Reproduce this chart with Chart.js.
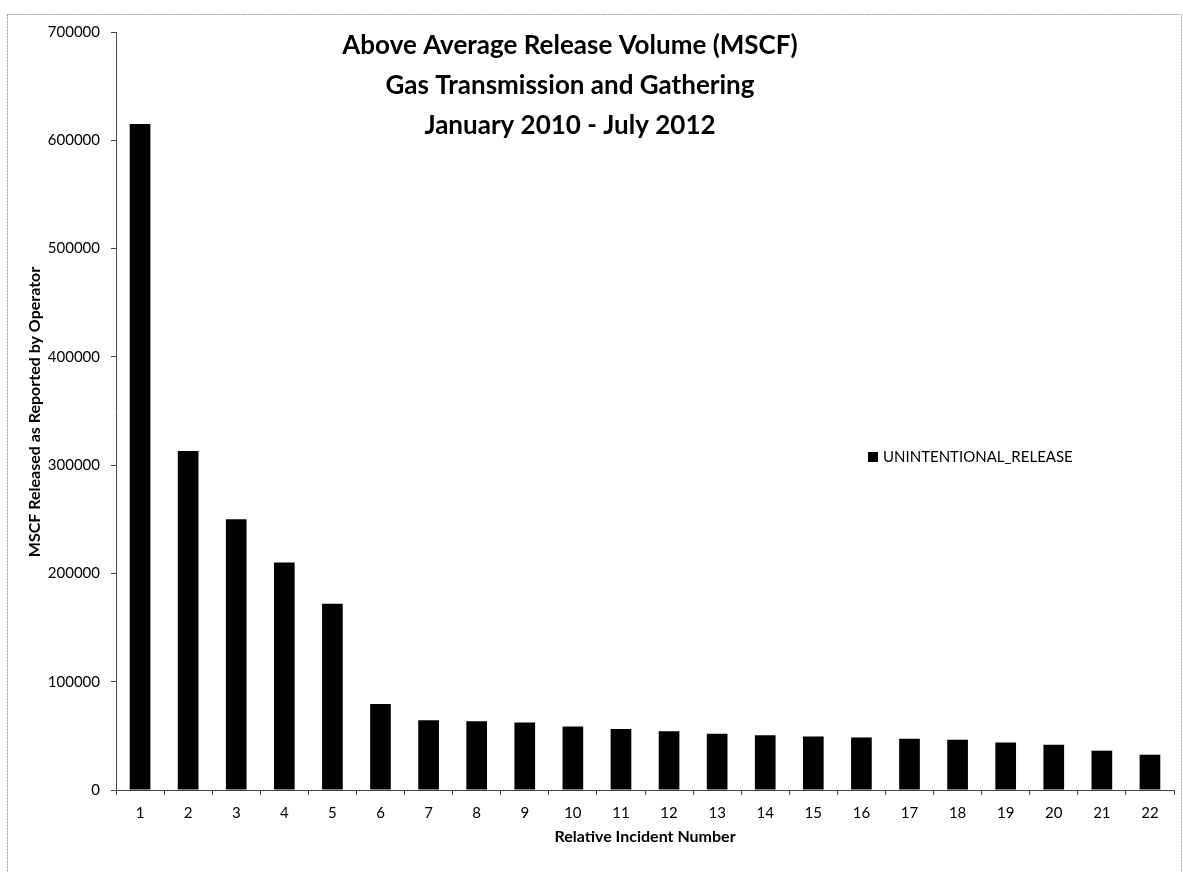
<!DOCTYPE html>
<html>
<head>
<meta charset="utf-8">
<script src="https://cdn.jsdelivr.net/npm/chart.js@4.4.0/dist/chart.umd.min.js"></script>
<style>
  html, body { margin: 0; padding: 0; background: #fff; }
  #wrap { width: 1183px; height: 872px; position: relative; }
</style>
</head>
<body>
<div id="wrap"><canvas id="c" width="1183" height="872"></canvas></div>
<script>
const categories = ['1','2','3','4','5','6','7','8','9','10','11','12','13','14','15','16','17','18','19','20','21','22'];
const releaseValues = [615000, 313000, 250000, 210000, 172000, 79500, 64500, 63400, 62300, 58700, 56300, 54300, 51900, 50500, 49400, 48500, 47300, 46500, 43900, 41800, 36300, 32600];
const seriesName = 'UNINTENTIONAL_RELEASE';
const titleLines = ['Above Average Release Volume (MSCF)', 'Gas Transmission and Gathering', 'January 2010 - July 2012'];
const yTitle = 'MSCF Released as Reported by Operator';
const xTitle = 'Relative Incident Number';
const yMax = 700000, yStep = 100000;

const FONT = 'Lato, "Open Sans", sans-serif';

const decorPlugin = {
  id: 'decor',
  afterDraw(chart) {
    const ctx = chart.ctx;
    const area = chart.chartArea;
    ctx.save();
    // frame
    ctx.strokeStyle = '#9a9a9a';
    ctx.lineWidth = 1;
    ctx.setLineDash([2, 1]);
    ctx.strokeRect(7.5, 14.5, 1174, 900);
    ctx.setLineDash([]);
    // title
    ctx.fillStyle = '#000';
    ctx.textAlign = 'center';
    ctx.textBaseline = 'middle';
    ctx.font = 'bold 26px ' + FONT;
    titleLines.forEach((t, i) => ctx.fillText(t, 570, 46 + i * 40));
    // x title
    ctx.font = 'bold 16px ' + FONT;
    ctx.fillText(xTitle, (area.left + area.right) / 2, 837);
    // y title
    ctx.save();
    ctx.translate(35, 412);
    ctx.rotate(-Math.PI / 2);
    ctx.fillText(yTitle, 0, 0);
    ctx.restore();
    // legend
    ctx.fillStyle = '#000';
    ctx.fillRect(868, 452, 10, 10);
    ctx.textAlign = 'left';
    ctx.font = '15px ' + FONT;
    ctx.fillText(seriesName, 883, 457.5);
    ctx.restore();
  }
};

new Chart(document.getElementById('c'), {
  type: 'bar',
  data: {
    labels: categories,
    datasets: [{
      label: seriesName,
      data: releaseValues,
      backgroundColor: '#000',
      borderWidth: 0,
      barPercentage: 0.43,
      categoryPercentage: 1.0
    }]
  },
  options: {
    responsive: false,
    animation: false,
    devicePixelRatio: 1,
    layout: { padding: { top: 32, right: 9, left: 0, bottom: 0 } },
    plugins: {
      legend: { display: false },
      title: { display: false },
      tooltip: { enabled: false }
    },
    scales: {
      x: {
        afterFit(s) { s.height = 82; },
        grid: { display: true, offset: true, drawOnChartArea: false, drawTicks: true, tickLength: 5, color: '#444' },
        border: { display: true, color: '#444', width: 1 },
        ticks: { color: '#000', font: { family: FONT, size: 15 }, padding: 9, maxRotation: 0, autoSkip: false }
      },
      y: {
        min: 0,
        max: yMax,
        afterFit(s) { s.width = 116; },
        grid: { display: true, drawOnChartArea: false, drawTicks: true, tickLength: 5, color: '#444' },
        border: { display: true, color: '#444', width: 1 },
        ticks: { stepSize: yStep, color: '#000', font: { family: FONT, size: 15 }, padding: 11,
          callback: v => String(v) }
      }
    }
  },
  plugins: [decorPlugin]
});
</script>
</body>
</html>
